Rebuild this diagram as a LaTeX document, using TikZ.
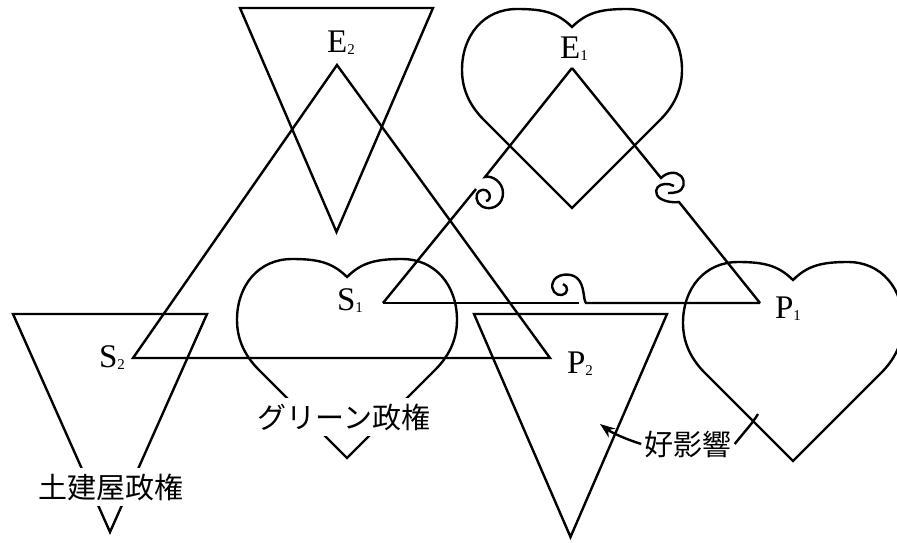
\documentclass[tikz,border=0pt]{standalone}
\usepackage{fontspec}
\setmainfont{Liberation Serif}
\newfontfamily\jafont{Noto Sans CJK JP}
\usetikzlibrary{arrows.meta}

\newcommand{\vtx}[2]{#1{\fontsize{15}{15}\selectfont\raisebox{-2pt}{#2}}}

\begin{document}
\begin{tikzpicture}[
  x=1pt, y=-1pt,
  line width=2.4pt,
  lbl/.style={font=\fontsize{33}{36}\selectfont, inner sep=0pt, anchor=base},
  tag/.style={font=\jafont\fontsize{29}{32}\selectfont, inner xsep=2pt, inner ysep=6pt},
  arrow/.style={-{Stealth[length=15pt,width=11pt]}},
  heart/.pic={
    \draw (0,0) .. controls (-15,-15) and (-30,-18) .. (-55,-18)
      .. controls (-88,-18) and (-110,8) .. (-110,43)
      .. controls (-110,65) and (-100,81) .. (-88,93)
      -- (0,181) -- (88,93)
      .. controls (100,81) and (110,65) .. (110,43)
      .. controls (110,8) and (88,-18) .. (55,-18)
      .. controls (30,-18) and (15,-15) .. cycle;
  }
]
\useasboundingbox (0,0) rectangle (897,542);
\clip (0,0) rectangle (897,542);

% corners
\coordinate (s2) at (133,358);
\coordinate (e2) at (337,65);
\coordinate (p2) at (550,358);
\coordinate (s1) at (383,303);
\coordinate (e1) at (572,68);
\coordinate (p1) at (760,303);

% big triangle
\draw (s2) -- (e2) -- (p2) -- cycle;

% small triangle with curls
\draw (s1) -- (476,189);
\draw (e1) -- (485,177) .. controls (492,175) and (503,182) .. (503,193)
  .. controls (503,204) and (494,209) .. (487,208)
  .. controls (479,207) and (475,200) .. (477,194)
  .. controls (479,189) and (486,188) .. (489,193)
  .. controls (491,197) and (489,201) .. (486,201);
\draw (e1) -- (661,178) .. controls (667,172) and (676,171) .. (681,176)
  .. controls (686,182) and (684,190) .. (677,192)
  .. controls (674,193) and (671,193) .. (668,193);
\draw (p1) -- (679,202) .. controls (672,203) and (660,201) .. (657,195)
  .. controls (654,189) and (659,184) .. (665,184)
  .. controls (668,184) and (671,184) .. (674,186);
\draw (s1) -- (579,303);
\draw (p1) -- (586,303) .. controls (583,300) and (585,285) .. (577,278)
  .. controls (570,272) and (556,274) .. (553,282)
  .. controls (550,290) and (556,296) .. (562,295)
  .. controls (568,294) and (569,286) .. (563,284);

% inverted triangles
\draw (240,8) -- (433,8) -- (336.5,232) -- cycle;
\draw (474,314) -- (667,314) -- (570.5,537) -- cycle;
\draw (13,314) -- (207,314) -- (110,532) -- cycle;

% hearts
\pic at (572,27) {heart};
\pic at (347,277) {heart};
\pic at (793,280) {heart};

% labels
\node[lbl] (le2) at (341,52) {\vtx{E}{2}};
\node[lbl] (le1) at (574,58) {\vtx{E}{1}};
\node[lbl] (ls1) at (350,310) {\vtx{S}{1}};
\node[lbl] (lp1) at (788,318) {\vtx{P}{1}};
\node[lbl] (ls2) at (112,367) {\vtx{S}{2}};
\node[lbl] (lp2) at (580,373) {\vtx{P}{2}};

\node[tag, fill=white] (doken) at (111,487) {土建屋政権};
\node[tag, fill=white] (green) at (344,417) {グリーン政権};
\node[tag] (good) at (688,444) {好影響};

\coordinate (aim) at (600,424);
\coordinate (hook) at (758,414);
\draw[arrow] (good.west) .. controls (628,440) and (612,433) .. (aim);
\draw (good.east) .. controls (745,431) and (752,424) .. (hook);

\end{tikzpicture}
\end{document}
